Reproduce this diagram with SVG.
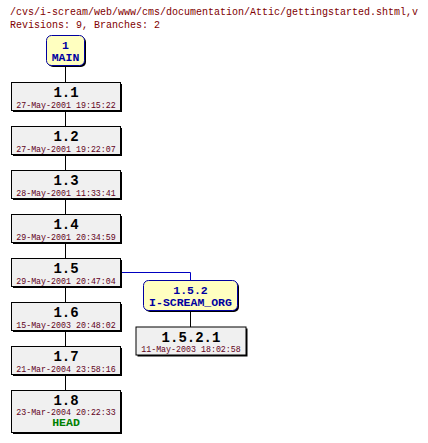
<svg xmlns="http://www.w3.org/2000/svg" width="428" height="443" viewBox="0 0 428 443">
<style>
text{font-family:"Liberation Mono","DejaVu Sans Mono",monospace}
.title{font-size:10px;fill:#800000}
.rev{font-size:14px;font-weight:bold;fill:#000;text-anchor:middle}
.date{font-size:8.3px;fill:#600020;text-anchor:middle}
.head{font-size:11.5px;font-weight:bold;fill:#008000;text-anchor:middle}
.br{font-size:11.5px;font-weight:bold;fill:#0000a0;text-anchor:middle}
.box{fill:#f0f0f0;stroke:#000;stroke-width:1}
.shadow{fill:#000}
.bbox{fill:#ffffc0;stroke:#0000a0;stroke-width:1}
.conn line,.conn polyline{stroke:#000;stroke-width:1;fill:none}
.conn .blue{stroke:#0000c0}
</style>
<rect width="428" height="443" fill="#fff"/>
<text class="title" x="10" y="15">/cvs/i-scream/web/www/cms/documentation/Attic/gettingstarted.shtml,v</text>
<text class="title" x="10" y="28">Revisions: 9, Branches: 2</text>
<g id="connectors" class="conn">
<line x1="65.5" y1="65" x2="65.5" y2="82"/>
<line x1="65.5" y1="110" x2="65.5" y2="126"/>
<line x1="65.5" y1="154" x2="65.5" y2="170"/>
<line x1="65.5" y1="198" x2="65.5" y2="214"/>
<line x1="65.5" y1="242" x2="65.5" y2="258"/>
<line x1="65.5" y1="286" x2="65.5" y2="302"/>
<line x1="65.5" y1="330" x2="65.5" y2="346"/>
<line x1="65.5" y1="374" x2="65.5" y2="390"/>
<polyline class="blue" points="121,272.5 190.5,272.5 190.5,280"/>
<line x1="190.5" y1="310" x2="190.5" y2="327"/>
</g>
<g id="MAIN">
<rect class="shadow" x="48" y="37" width="38" height="30" rx="5"/>
<rect class="bbox" x="46.5" y="35.5" width="38" height="30" rx="5"/>
<text class="br" x="65.5" y="48.5">1</text>
<text class="br" x="65.5" y="61">MAIN</text>
</g>
<g id="r1.1">
<rect class="shadow" x="13" y="84" width="109" height="28"/>
<rect class="box" x="11.5" y="82.5" width="109" height="28"/>
<text class="rev" x="66" y="96.5">1.1</text>
<text class="date" x="66" y="107.5">27-May-2001 19:15:22</text>
</g>
<g id="r1.2">
<rect class="shadow" x="13" y="128" width="109" height="28"/>
<rect class="box" x="11.5" y="126.5" width="109" height="28"/>
<text class="rev" x="66" y="140.5">1.2</text>
<text class="date" x="66" y="151.5">27-May-2001 19:22:07</text>
</g>
<g id="r1.3">
<rect class="shadow" x="13" y="172" width="109" height="28"/>
<rect class="box" x="11.5" y="170.5" width="109" height="28"/>
<text class="rev" x="66" y="184.5">1.3</text>
<text class="date" x="66" y="195.5">28-May-2001 11:33:41</text>
</g>
<g id="r1.4">
<rect class="shadow" x="13" y="216" width="109" height="28"/>
<rect class="box" x="11.5" y="214.5" width="109" height="28"/>
<text class="rev" x="66" y="228.5">1.4</text>
<text class="date" x="66" y="239.5">29-May-2001 20:34:59</text>
</g>
<g id="r1.5">
<rect class="shadow" x="13" y="260" width="109" height="28"/>
<rect class="box" x="11.5" y="258.5" width="109" height="28"/>
<text class="rev" x="66" y="272.5">1.5</text>
<text class="date" x="66" y="283.5">29-May-2001 20:47:04</text>
</g>
<g id="r1.6">
<rect class="shadow" x="13" y="304" width="109" height="28"/>
<rect class="box" x="11.5" y="302.5" width="109" height="28"/>
<text class="rev" x="66" y="316.5">1.6</text>
<text class="date" x="66" y="327.5">15-May-2003 20:48:02</text>
</g>
<g id="r1.7">
<rect class="shadow" x="13" y="348" width="109" height="28"/>
<rect class="box" x="11.5" y="346.5" width="109" height="28"/>
<text class="rev" x="66" y="360.5">1.7</text>
<text class="date" x="66" y="371.5">21-Mar-2004 23:58:16</text>
</g>
<g id="r1.8">
<rect class="shadow" x="13" y="392" width="109" height="42"/>
<rect class="box" x="11.5" y="390.5" width="109" height="42"/>
<text class="rev" x="66" y="405">1.8</text>
<text class="date" x="66" y="414.5">23-Mar-2004 20:22:33</text>
<text class="head" x="66" y="426">HEAD</text>
</g>
<g id="b1.5.2">
<rect class="shadow" x="145" y="282" width="94" height="30" rx="5"/>
<rect class="bbox" x="143.5" y="280.5" width="94" height="30" rx="5"/>
<text class="br" x="190.5" y="293.5">1.5.2</text>
<text class="br" x="190.5" y="305.5">I-SCREAM_ORG</text>
</g>
<g id="r1.5.2.1">
<rect class="shadow" x="137.5" y="328.5" width="110" height="28"/>
<rect class="box" x="136" y="327" width="110" height="28"/>
<text class="rev" x="191" y="341.5">1.5.2.1</text>
<text class="date" x="191" y="351.5">11-May-2003 18:02:58</text>
</g>
</svg>
